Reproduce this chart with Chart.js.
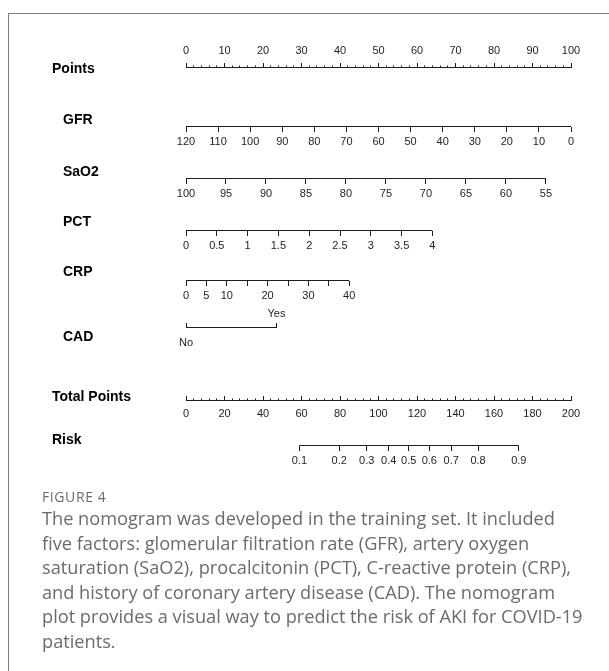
<!DOCTYPE html>
<html>
<head>
<meta charset="utf-8">
<script src="https://cdn.jsdelivr.net/npm/chart.js@4/dist/chart.umd.min.js"></script>
<style>
  html, body { margin: 0; padding: 0; background: #fff; width: 609px; height: 671px; overflow: hidden; }
  #frame { position: absolute; left: 8px; top: 13px; width: 800px; height: 900px;
           border-left: 1px solid #7c7c7c; border-top: 1px solid #7c7c7c; }
  #wrap { position: absolute; left: 0; top: 0; width: 609px; height: 500px; }
  #caption { position: absolute; left: 42px; top: 486px; width: 567px;
             font-family: "Open Sans", "Noto Sans", sans-serif; color: #6b6b6b; }
  #caption .fig { font-size: 14px; letter-spacing: 0.6px; line-height: 22px; }
  #caption .txt { font-size: 18.2px; line-height: 24.5px; margin-top: -2px; white-space: nowrap; }
</style>
</head>
<body>
<div id="frame"></div>
<div id="wrap"><canvas id="nomo" width="609" height="500"></canvas></div>
<div id="caption">
  <div class="fig">FIGURE 4</div>
  <div class="txt">The nomogram was developed in the training set. It included<br>five factors: glomerular filtration rate (GFR), artery oxygen<br>saturation (SaO2), procalcitonin (PCT), C-reactive protein (CRP),<br>and history of coronary artery disease (CAD). The nomogram<br>plot provides a visual way to predict the risk of AKI for COVID-19<br>patients.</div>
</div>
<script>
// ---- nomogram scales ----
const pointsTicks = [0, 10, 20, 30, 40, 50, 60, 70, 80, 90, 100];
const pointsMinorStep = 2;

const gfrTicks  = [120, 110, 100, 90, 80, 70, 60, 50, 40, 30, 20, 10, 0];
const sao2Ticks = [100, 95, 90, 85, 80, 75, 70, 65, 60, 55];
const pctTicks  = [0, 0.5, 1, 1.5, 2, 2.5, 3, 3.5, 4];
const crpTicks  = [0, 5, 10, 15, 20, 25, 30, 35, 40];
const crpLabels = ['0', '5', '10', '', '20', '', '30', '', '40'];

const cadLevels = ['No', 'Yes'];
const cadPoints = [0, 23.5];

const totalTicks = [0, 20, 40, 60, 80, 100, 120, 140, 160, 180, 200];
const totalMinorStep = 4;

const riskLabels      = ['0.1', '0.2', '0.3', '0.4', '0.5', '0.6', '0.7', '0.8', '0.9'];
const riskTotalPoints = [58.9, 79.6, 93.9, 105.3, 115.7, 126.4, 137.8, 151.7, 172.9];

// points given at the far end of each continuous predictor's range
const gfrMaxPoints  = 100;
const sao2MaxPoints = 93.5;
const pctMaxPoints  = 64.0;
const crpMaxPoints  = 42.4;

const rowNamesMain   = ['Points', 'Total Points', 'Risk'];
const rowNamesIndent = ['GFR', 'SaO2', 'PCT', 'CRP', 'CAD'];

// ---- layout (vertical levels in canvas pixels, y scale is 1:1) ----
const ROW = { points: 67.5, gfr: 126.5, sao2: 178.5, pct: 230.5, crp: 280.5, cad: 327.5, total: 400.5, risk: 445.5 };
const NAME_Y_MAIN   = [69, 397, 440];
const NAME_Y_INDENT = [120, 172, 222, 272, 337];

const INK = '#1e1e1e';
const FAMILY = "'Liberation Sans', Arial, sans-serif";
const TICK_FONT = { family: FAMILY, size: 11 };
const NAME_FONT = { family: FAMILY, size: 14, weight: 'bold' };
const LINE_H = TICK_FONT.size * 1.2;

function stepValues(from, to, step) {
  const out = [];
  for (let v = from; v <= to + 1e-9; v += step) out.push(+v.toFixed(6));
  return out;
}

// axis range that stretches a predictor across the 0..100 points width
function fallingRange(hi, lo, maxPts) { return { min: hi - (hi - lo) * 100 / maxPts, max: hi, reverse: true }; }
function risingRange(lo, hi, maxPts)  { return { min: lo, max: lo + (hi - lo) * 100 / maxPts, reverse: false }; }

// one horizontal axis drawn at a row level; tickLen < 0 puts marks above the line,
// labelGap is the label centre relative to the line (negative = above)
function rowAxis(level, range, values, labels, tickLen, labelGap) {
  return {
    type: 'linear', axis: 'x', position: { yMain: level },
    min: range.min, max: range.max, reverse: range.reverse,
    border: { display: false },
    grid: { display: true, drawOnChartArea: false, drawTicks: tickLen !== 0,
            tickLength: tickLen, tickColor: INK, tickWidth: 1 },
    ticks: { display: !!labels, autoSkip: false, maxRotation: 0, minRotation: 0,
             padding: labelGap - tickLen - LINE_H / 2, color: INK, font: TICK_FONT,
             callback: (v, i) => (labels ? labels[i] : '') },
    afterBuildTicks: s => { s.ticks = values.map(v => ({ value: v })); }
  };
}

function rowLine(axisId, from, to, level) {
  return {
    type: 'scatter', xAxisID: axisId, yAxisID: 'yMain', showLine: true,
    data: [{ x: from, y: level }, { x: to, y: level }],
    borderColor: INK, borderWidth: 1, pointRadius: 0, pointHoverRadius: 0, fill: false
  };
}

const ptsRange   = { min: 0, max: 100, reverse: false };
const totRange   = { min: 0, max: 200, reverse: false };
const gfrRange   = fallingRange(gfrTicks[0], gfrTicks[gfrTicks.length - 1], gfrMaxPoints);
const sao2Range  = fallingRange(sao2Ticks[0], sao2Ticks[sao2Ticks.length - 1], sao2MaxPoints);
const pctRange   = risingRange(pctTicks[0], pctTicks[pctTicks.length - 1], pctMaxPoints);
const crpRange   = risingRange(crpTicks[0], crpTicks[crpTicks.length - 1], crpMaxPoints);

const scales = {
  // outer name column: mirrored so the bold names start at the page margin
  yMain: {
    type: 'linear', position: 'left', weight: 2, reverse: true, min: 20, max: 480,
    grid: { display: false }, border: { display: false },
    ticks: { autoSkip: false, mirror: true, padding: -11, color: '#000', font: NAME_FONT,
             callback: (v, i) => rowNamesMain[i] },
    afterBuildTicks: s => { s.ticks = NAME_Y_MAIN.map(v => ({ value: v })); },
    afterFit: s => { s.width = 11; }
  },
  // inner, indented name column for the predictors
  yIndent: {
    type: 'linear', position: 'left', weight: 1, reverse: true, min: 20, max: 480,
    grid: { display: false }, border: { display: false },
    ticks: { autoSkip: false, crossAlign: 'far', color: '#000', font: NAME_FONT,
             callback: (v, i) => rowNamesIndent[i] },
    afterBuildTicks: s => { s.ticks = NAME_Y_INDENT.map(v => ({ value: v })); },
    afterFit: s => { s.width = 123; }
  },
  xPoints:      rowAxis(ROW.points, ptsRange, pointsTicks, pointsTicks.map(String), -5, -16.5),
  xPointsMinor: rowAxis(ROW.points, ptsRange, stepValues(0, 100, pointsMinorStep), null, -2.5, 0),
  xGFR:   rowAxis(ROW.gfr,  gfrRange,  gfrTicks,  gfrTicks.map(String),  5, 15),
  xSaO2:  rowAxis(ROW.sao2, sao2Range, sao2Ticks, sao2Ticks.map(String), 5, 15),
  xPCT:   rowAxis(ROW.pct,  pctRange,  pctTicks,  pctTicks.map(String),  5, 15),
  xCRP:   rowAxis(ROW.crp,  crpRange,  crpTicks,  crpLabels,             5, 15),
  xCAD:    rowAxis(ROW.cad, ptsRange, cadPoints, [cadLevels[0], ''], -5, 15),
  xCADTop: rowAxis(ROW.cad, ptsRange, cadPoints, ['', cadLevels[1]], 0, -13.5),
  xTotal:      rowAxis(ROW.total, totRange, totalTicks, totalTicks.map(String), -5, 13.5),
  xTotalMinor: rowAxis(ROW.total, totRange, stepValues(0, 200, totalMinorStep), null, -2.5, 0),
  xRisk:  rowAxis(ROW.risk, totRange, riskTotalPoints, riskLabels, 5, 15)
};

const datasets = [
  rowLine('xPoints', 0, 100, ROW.points),
  rowLine('xGFR', gfrTicks[0], gfrTicks[gfrTicks.length - 1], ROW.gfr),
  rowLine('xSaO2', sao2Ticks[0], sao2Ticks[sao2Ticks.length - 1], ROW.sao2),
  rowLine('xPCT', pctTicks[0], pctTicks[pctTicks.length - 1], ROW.pct),
  rowLine('xCRP', crpTicks[0], crpTicks[crpTicks.length - 1], ROW.crp),
  rowLine('xCAD', cadPoints[0], cadPoints[1], ROW.cad),
  rowLine('xTotal', 0, 200, ROW.total),
  rowLine('xRisk', riskTotalPoints[0], riskTotalPoints[riskTotalPoints.length - 1], ROW.risk)
];

new Chart(document.getElementById('nomo'), {
  type: 'scatter',
  data: { datasets },
  options: {
    responsive: false, animation: false, devicePixelRatio: 1,
    layout: { padding: { left: 52, right: 38, top: 20, bottom: 20 } },
    plugins: { legend: { display: false }, tooltip: { enabled: false } },
    events: [],
    scales
  }
});
</script>
</body>
</html>
